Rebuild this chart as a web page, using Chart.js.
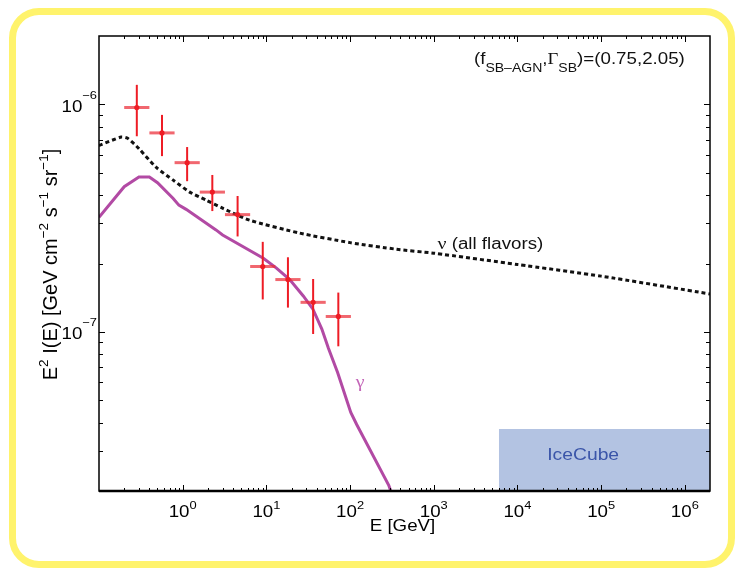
<!DOCTYPE html>
<html>
<head>
<meta charset="utf-8">
<script src="https://cdn.jsdelivr.net/npm/chart.js@4"></script>
<style>
  html, body { margin: 0; padding: 0; background: #fff; }
  #frame { position: absolute; left: 9px; top: 8px; width: 726px; height: 560px; box-sizing: border-box;
           border: 7px solid #fff36c; border-radius: 30px; }
  #wrap { position: absolute; left: 0; top: 0; width: 735px; height: 568px; }
</style>
</head>
<body>
<div id="frame"></div>
<div id="wrap"><canvas id="chart" width="735" height="568"></canvas></div>
<script>
// ---- data ----
// Fermi-LAT EGB points: bin centre, bin edges, flux and error bar ends
const fermiE     = [0.283, 0.566, 1.13, 2.26, 4.53, 9.05, 18.1, 36.2, 72.4];
const fermiELow  = [0.2, 0.4, 0.8, 1.6, 3.2, 6.4, 12.8, 25.6, 51.2];
const fermiEHigh = [0.4, 0.8, 1.6, 3.2, 6.4, 12.8, 25.6, 51.2, 102.4];
const fermiFlux  = [9.7e-7, 7.5e-7, 5.55e-7, 4.12e-7, 3.28e-7, 1.94e-7, 1.70e-7, 1.35e-7, 1.17e-7];
const fermiHigh  = [1.22e-6, 9.0e-7, 6.5e-7, 4.9e-7, 3.96e-7, 2.49e-7, 2.13e-7, 1.71e-7, 1.49e-7];
const fermiLow   = [7.25e-7, 5.93e-7, 4.6e-7, 3.4e-7, 2.63e-7, 1.39e-7, 1.28e-7, 9.8e-8, 8.65e-8];

// neutrino (all flavors) model
const nuE    = [0.1, 0.185, 0.22, 0.3, 0.48, 0.77, 1.2, 1.9, 3, 6.3, 25, 100, 360, 1000, 1e4, 1e5, 2e6];
const nuFlux = [6.6e-7, 7.2e-7, 7.1e-7, 6.4e-7, 5.3e-7, 4.65e-7, 4.13e-7, 3.8e-7, 3.5e-7, 3.1e-7,
                2.72e-7, 2.47e-7, 2.31e-7, 2.22e-7, 1.98e-7, 1.76e-7, 1.47e-7];

// gamma-ray model
const gamE    = [0.1, 0.2, 0.3, 0.4, 0.5, 0.77, 0.9, 1.1, 2.5, 3.0, 9.2, 13.2, 19, 27.6, 36, 46, 55, 71, 102, 120, 290, 330];
const gamFlux = [3.19e-7, 4.35e-7, 4.8e-7, 4.8e-7, 4.53e-7, 3.86e-7, 3.61e-7, 3.46e-7, 2.81e-7, 2.67e-7,
                 2.11e-7, 1.91e-7, 1.7e-7, 1.44e-7, 1.26e-7, 1.03e-7, 8.5e-8, 6.64e-8, 4.43e-8, 3.92e-8, 2.12e-8, 1.85e-8];

// IceCube region (lower-right box)
const iceE    = [6e3, 2e6];
const iceFlux = [3.75e-8, 3.75e-8];

// axes
const xRange = [0.1, 2e6];
const yRange = [2e-8, 2e-6];
const xTickExp = [0, 1, 2, 3, 4, 5, 6];
const yTickExp = [-7, -6];

const pts = (xs, ys) => xs.map((v, i) => ({ x: v, y: ys[i] }));

const SX = 1.17;   // the figure's text is a bit wide
const SANS = '"Liberation Sans", Arial, sans-serif';
const SERIF = '"Liberation Serif", "Times New Roman", serif';

function runsWidth(ctx, runs) {
  let w = 0;
  for (const r of runs) { ctx.font = r.font; w += ctx.measureText(r.t).width; }
  return w;
}
function drawRuns(ctx, runs, x, y, align, sx, color) {
  const w = runsWidth(ctx, runs) * sx;
  const x0 = align === 'center' ? x - w / 2 : align === 'right' ? x - w : x;
  ctx.save();
  ctx.translate(x0, y);
  ctx.scale(sx, 1);
  ctx.textAlign = 'left';
  ctx.textBaseline = 'alphabetic';
  let cx = 0;
  for (const r of runs) {
    ctx.font = r.font;
    ctx.fillStyle = r.color || color;
    ctx.fillText(r.t, cx, r.dy || 0);
    cx += ctx.measureText(r.t).width;
  }
  ctx.restore();
}

// error bars under the markers
const errorBars = {
  id: 'errorBars',
  beforeDatasetDraw(chart, args) {
    if (args.index !== 0) return;
    const { ctx, scales: { x, y } } = chart;
    ctx.save();
    for (let i = 0; i < fermiE.length; i++) {
      const px = x.getPixelForValue(fermiE[i]);
      const py = y.getPixelForValue(fermiFlux[i]);
      ctx.strokeStyle = 'rgba(236,45,55,0.72)';
      ctx.lineWidth = 3;
      ctx.beginPath();
      ctx.moveTo(x.getPixelForValue(fermiELow[i]), py);
      ctx.lineTo(x.getPixelForValue(fermiEHigh[i]), py);
      ctx.stroke();
      ctx.strokeStyle = '#ee1c25';
      ctx.lineWidth = 2;
      ctx.beginPath();
      ctx.moveTo(px, y.getPixelForValue(fermiHigh[i]));
      ctx.lineTo(px, y.getPixelForValue(fermiLow[i]));
      ctx.stroke();
    }
    ctx.restore();
  }
};

// box, inward ticks, tick labels, titles, annotations
const decor = {
  id: 'decor',
  afterDraw(chart) {
    const { ctx, chartArea: a, scales: { x, y } } = chart;
    ctx.save();
    ctx.strokeStyle = '#000';
    ctx.lineWidth = 1.5;
    ctx.strokeRect(a.left, a.top, a.right - a.left, a.bottom - a.top);
    ctx.lineWidth = 2.5;
    ctx.beginPath(); ctx.moveTo(a.left, a.bottom); ctx.lineTo(a.right, a.bottom); ctx.stroke();

    ctx.lineWidth = 1;
    const seg = (x1, y1, x2, y2) => { ctx.beginPath(); ctx.moveTo(x1, y1); ctx.lineTo(x2, y2); ctx.stroke(); };
    for (let e = -1; e <= 6; e++) {
      for (let k = 1; k <= 9; k++) {
        const v = k * Math.pow(10, e);
        if (v <= xRange[0] || v >= xRange[1]) continue;
        const px = Math.round(x.getPixelForValue(v)) + 0.5;
        const len = k === 1 ? 6 : 3;
        seg(px, a.bottom, px, a.bottom - len);
        seg(px, a.top, px, a.top + len);
      }
    }
    for (let e = -8; e <= -6; e++) {
      for (let k = 1; k <= 9; k++) {
        const v = k * Math.pow(10, e);
        if (v <= yRange[0] || v >= yRange[1]) continue;
        const py = Math.round(y.getPixelForValue(v)) + 0.5;
        const len = k === 1 ? 6 : 4;
        seg(a.left, py, a.left + len, py);
        seg(a.right, py, a.right - len, py);
      }
    }

    // tick labels
    xTickExp.forEach(e => {
      const px = x.getPixelForValue(Math.pow(10, e));
      drawRuns(ctx, [
        { t: '10', font: '16px ' + SANS },
        { t: String(e), font: '11px ' + SANS, dy: -8 }
      ], px, a.bottom + 26, 'center', SX, '#000');
    });
    yTickExp.forEach(e => {
      const py = y.getPixelForValue(Math.pow(10, e));
      drawRuns(ctx, [
        { t: '10', font: '16px ' + SANS },
        { t: '\u2212' + Math.abs(e), font: '11px ' + SANS, dy: -13 }
      ], a.left - 2, py + 7.5, 'right', SX, '#000');
    });

    // axis titles
    drawRuns(ctx, [{ t: 'E [GeV]', font: '16px ' + SANS }],
      (a.left + a.right) / 2 - 2, a.bottom + 40, 'center', SX, '#000');
    ctx.save();
    ctx.translate(57, (a.top + a.bottom) / 2 + 1);
    ctx.rotate(-Math.PI / 2);
    const big = '20px ' + SANS, sup = '13.5px ' + SANS;
    drawRuns(ctx, [
      { t: 'E', font: big }, { t: '2', font: sup, dy: -9 },
      { t: ' I(E) [GeV cm', font: big }, { t: '\u22122', font: sup, dy: -9 },
      { t: ' s', font: big }, { t: '\u22121', font: sup, dy: -9 },
      { t: ' sr', font: big }, { t: '\u22121', font: sup, dy: -9 },
      { t: ']', font: big }
    ], 0, 0, 'center', 1, '#000');
    ctx.restore();

    // annotations anchored in data space
    const main = '16px ' + SANS, sub = '12px ' + SANS;
    drawRuns(ctx, [
      { t: '(f', font: main }, { t: 'SB\u2013AGN', font: sub, dy: 8 },
      { t: ',', font: main }, { t: '\u0393', font: '16px ' + SERIF }, { t: 'SB', font: sub, dy: 8 },
      { t: ')=(0.75,2.05)', font: main }
    ], x.getPixelForValue(1e6), y.getPixelForValue(1.51e-6), 'right', SX, '#111');

    drawRuns(ctx, [
      { t: '\u03bd', font: '17px ' + SERIF }, { t: ' (all flavors)', font: main }
    ], x.getPixelForValue(4750), y.getPixelForValue(2.32e-7), 'center', SX, '#111');

    drawRuns(ctx, [{ t: '\u03b3', font: '17px ' + SERIF }],
      x.getPixelForValue(132), y.getPixelForValue(5.73e-8), 'center', SX, '#c466b8');

    drawRuns(ctx, [{ t: 'IceCube', font: '16.5px ' + SANS }],
      x.getPixelForValue(6.1e4), y.getPixelForValue(2.9e-8) + 6, 'center', SX, '#3b55a9');

    ctx.restore();
  }
};

new Chart(document.getElementById('chart'), {
  type: 'line',
  data: {
    datasets: [
      {
        label: 'Fermi',
        data: pts(fermiE, fermiFlux),
        showLine: false,
        pointRadius: 2.6,
        pointBackgroundColor: '#ee1c25',
        pointBorderWidth: 0,
        order: 0
      },
      {
        label: 'gamma',
        data: pts(gamE, gamFlux),
        borderColor: '#b24aa4',
        borderWidth: 3,
        pointRadius: 0,
        clip: 0,
        order: 1
      },
      {
        label: 'nu',
        data: pts(nuE, nuFlux),
        borderColor: '#111',
        borderWidth: 3,
        borderDash: [4, 3],
        pointRadius: 0,
        tension: 0.2,
        clip: 0,
        order: 2
      },
      {
        label: 'IceCube',
        data: pts(iceE, iceFlux),
        borderWidth: 0,
        pointRadius: 0,
        fill: 'start',
        backgroundColor: '#b3c3e2',
        clip: 0,
        order: 3
      }
    ]
  },
  options: {
    responsive: false,
    animation: false,
    devicePixelRatio: 1,
    layout: { padding: { left: 99, top: 36, right: 25, bottom: 77 } },
    plugins: { legend: { display: false }, tooltip: { enabled: false } },
    scales: {
      x: { type: 'logarithmic', min: xRange[0], max: xRange[1], display: false },
      y: { type: 'logarithmic', min: yRange[0], max: yRange[1], display: false }
    }
  },
  plugins: [errorBars, decor]
});
</script>
</body>
</html>
